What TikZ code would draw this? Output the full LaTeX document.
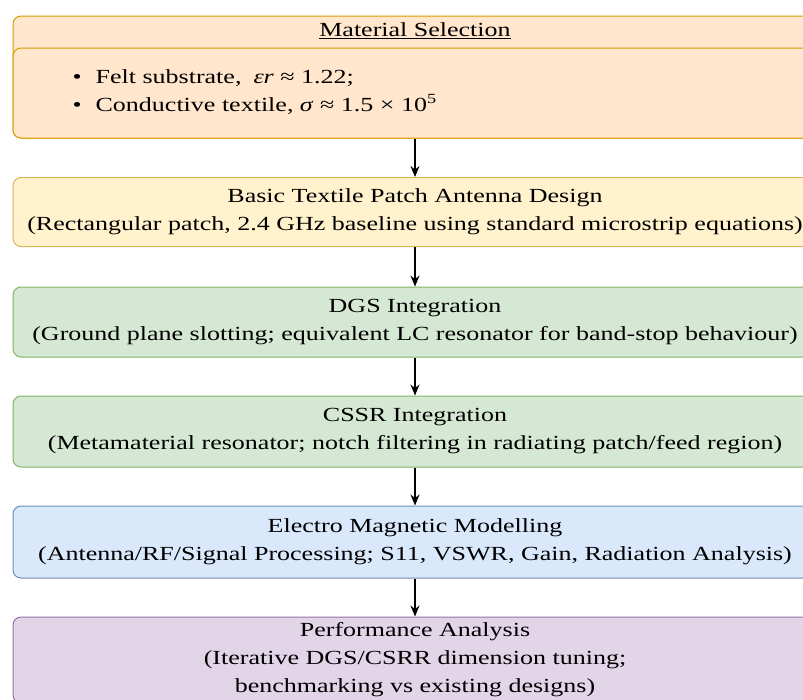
\documentclass[tikz,border=0pt]{standalone}
\usepackage{fontspec}
\setmainfont[FakeStretch=1.3]{Liberation Serif}
\usetikzlibrary{arrows.meta}
\definecolor{matfill}{HTML}{FFE6CC}
\definecolor{matdraw}{HTML}{D79B00}
\definecolor{patchfill}{HTML}{FFF2CC}
\definecolor{patchdraw}{HTML}{D6B656}
\definecolor{dgsfill}{HTML}{D5E8D4}
\definecolor{dgsdraw}{HTML}{82B366}
\definecolor{emfill}{HTML}{DAE8FC}
\definecolor{emdraw}{HTML}{6C8EBF}
\definecolor{perffill}{HTML}{E1D5E7}
\definecolor{perfdraw}{HTML}{9673A6}
\newcommand{\boxwidth}{804pt}

\begin{document}
\begin{tikzpicture}[x=1pt,y=-1pt]
            \useasboundingbox (0,0) rectangle (803,699);
            \clip (0,0) rectangle (803,699);
            \fill[white] (0,0) rectangle (803,699);

            \begin{scope}[every node/.style={rounded corners=8pt,draw,line width=1pt,minimum width=\boxwidth,align=center,font=\fontsize{20}{28}\selectfont}]
                \node[fill=matfill,draw=matdraw,minimum height=122pt] (mat) at (415,77) {};
                \node[fill=matfill,draw=matdraw,minimum height=90pt] (matbody) at (415,93) {};
                \node[fill=patchfill,draw=patchdraw,minimum height=69pt] (patch) at (415,212) {Basic Textile Patch Antenna Design\\(Rectangular patch, 2.4 GHz baseline using standard microstrip equations)};
                \node[fill=dgsfill,draw=dgsdraw,minimum height=70pt] (dgs) at (415,322) {DGS Integration\\(Ground plane slotting; equivalent LC resonator for band-stop behaviour)};
                \node[fill=dgsfill,draw=dgsdraw,minimum height=71pt] (cssr) at (415,431.5) {CSSR Integration\\(Metamaterial resonator; notch filtering in radiating patch/feed region)};
                \node[fill=emfill,draw=emdraw,minimum height=72pt] (em) at (415,542) {Electro Magnetic Modelling\\(Antenna/RF/Signal Processing; S11, VSWR, Gain, Radiation Analysis)};
                \node[fill=perffill,draw=perfdraw,minimum height=86pt] (perf) at (415,660) {Performance Analysis\\(Iterative DGS/CSRR dimension tuning;\\benchmarking vs existing designs)};
            \end{scope}

            % header and bullet list of the first block
            \node[font=\fontsize{20}{28}\selectfont] (mathead) at (415,31) {\underline{Material Selection}};
            \node[anchor=west,align=left,font=\fontsize{20}{28}\selectfont] (matlist) at (69,92) {\textbullet\hspace{14pt}Felt substrate,\hspace{12pt}\textit{εr} ≈ 1.22;\\\textbullet\hspace{14pt}Conductive textile, \textit{σ} ≈ 1.5 × 10\textsuperscript{5}};

            \begin{scope}[>={Stealth[black,length=11pt,width=9pt]},
                every edge/.style={draw=black,line width=1.5pt}]
                \path [->] (mat) edge node {} (patch);
                \path [->] (patch) edge node {} (dgs);
                \path [->] (dgs) edge node {} (cssr);
                \path [->] (cssr) edge node {} (em);
                \path [->] (em) edge node {} (perf);
            \end{scope}
            \end{tikzpicture}
\end{document}
